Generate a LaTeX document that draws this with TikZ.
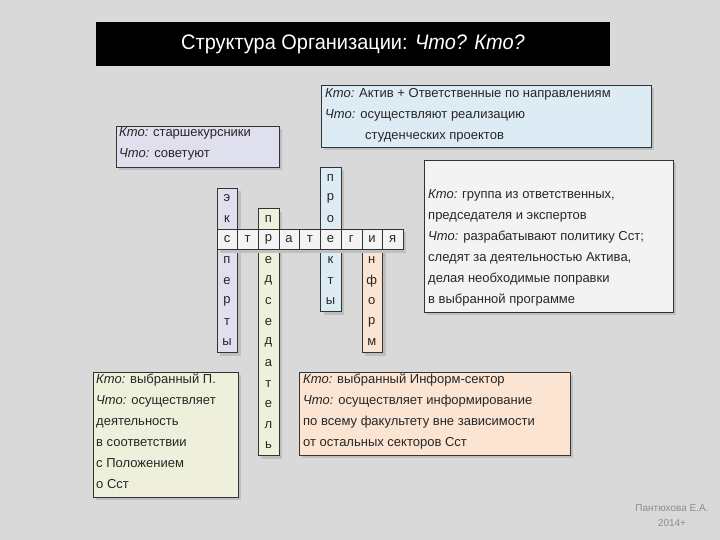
\documentclass[tikz,border=0pt]{standalone}
\usepackage{fontspec}
\setmainfont{Liberation Sans}
\begin{document}
\begin{tikzpicture}[x=1pt,y=-1pt,
  box/.style={draw=black!80,line width=0.8pt},
  txt/.style={anchor=north west,inner sep=0pt,align=left,font=\fontsize{13}{21}\selectfont,text=black!85},
  cell/.style={font=\fontsize{13}{13}\selectfont,text=black!85}]
\definecolor{bg}{HTML}{D9D9D9}
\definecolor{lav}{HTML}{DFDFEE}
\definecolor{lblue}{HTML}{DCEBF4}
\definecolor{lyel}{HTML}{EEF0DC}
\definecolor{peach}{HTML}{FCE4D2}
\definecolor{lgray}{HTML}{F3F3F3}
\newcommand{\kto}{\textit{Кто:}}
\newcommand{\chto}{\textit{Что:}}
\fill[bg] (0,0) rectangle (720,540);
\useasboundingbox (0,0) rectangle (720,540);
% title
\fill[black] (96,22) rectangle (610,66);
\node[text=white,font=\fontsize{21}{21}\selectfont,xscale=0.95] (title) at (353,44) {Структура Организации: \textit{Что? Кто?}};
% shadows + boxes
\foreach \a/\b/\c/\d/\f in {116/126/279/167/lav,321/85/651/147/lblue,424/160/673/312/lgray,93/372/238/497/lyel,299/372/570/455/peach}{
  \fill[black!25] (\a+3,\b+3) rectangle (\c+3,\d+3);
  \filldraw[box,fill=\f] (\a,\b) rectangle (\c,\d);
}
\node[txt] (ta) at (119,127) {\kto{} старшекурсники\\\chto{} советуют};
\node[txt] (tb) at (325,88) {\kto{} Актив + Ответственные по направлениям\\\chto{} осуществляют реализацию\\\hspace*{40pt}студенческих проектов};
\node[txt] (tc) at (428,189) {\kto{} группа из ответственных,\\председателя и экспертов\\\chto{} разрабатывают политику Сст;\\следят за деятельностью Актива,\\делая необходимые поправки\\в выбранной программе};
\node[txt] (td) at (96,374) {\kto{} выбранный П.\\\chto{} осуществляет\\деятельность\\в соответствии\\с Положением\\о Сст};
\node[txt] (te) at (303,374) {\kto{} выбранный Информ-сектор\\\chto{} осуществляет информирование\\по всему факультету вне зависимости\\от остальных секторов Сст};
% crossword
\def\cw{20.7}\def\rh{20.6}
\foreach \col/\top/\bot/\f in {0/-2/5/lav,2/-1/10/lyel,5/-3/3/lblue,7/0/5/peach}{
  \fill[black!25] (217+\col*\cw+3,239.5+\top*\rh-\rh/2+3) rectangle (217+\col*\cw+\cw+3,239.5+\bot*\rh+\rh/2+3);
  \filldraw[box,fill=\f] (217+\col*\cw,239.5+\top*\rh-\rh/2) rectangle (217+\col*\cw+\cw,239.5+\bot*\rh+\rh/2);
}
\fill[black!25] (220,232.2) rectangle (406,252.8);
\foreach \i in {0,...,8}{
  \filldraw[box,fill=lgray] (217+\i*\cw,229.2) rectangle (217+\i*\cw+\cw,249.8);
}
\foreach \l [count=\i from 0] in {с,т,р,а,т,е,г,и,я}
  \node[cell] (h\i) at (227+\i*\cw,239.5) {\l};
\foreach \l [count=\i from -2] in {э,к,,п,е,р,т,ы}
  \node[cell] (ea\i) at (227,239.5+\i*\rh) {\l};
\foreach \l [count=\i from -1] in {п,,е,д,с,е,д,а,т,е,л,ь}
  \node[cell] (pa\i) at (268.4,239.5+\i*\rh) {\l};
\foreach \l [count=\i from -3] in {п,р,о,,к,т,ы}
  \node[cell] (pb\i) at (330.5,239.5+\i*\rh) {\l};
\foreach \l [count=\i from 1] in {н,ф,о,р,м}
  \node[cell] (ia\i) at (371.8,239.5+\i*\rh) {\l};
% footer
\node[text=black!45,font=\fontsize{10}{15}\selectfont,align=center] (ft) at (672,516) {Пантюхова Е.А.\\2014+};
\end{tikzpicture}
\end{document}
